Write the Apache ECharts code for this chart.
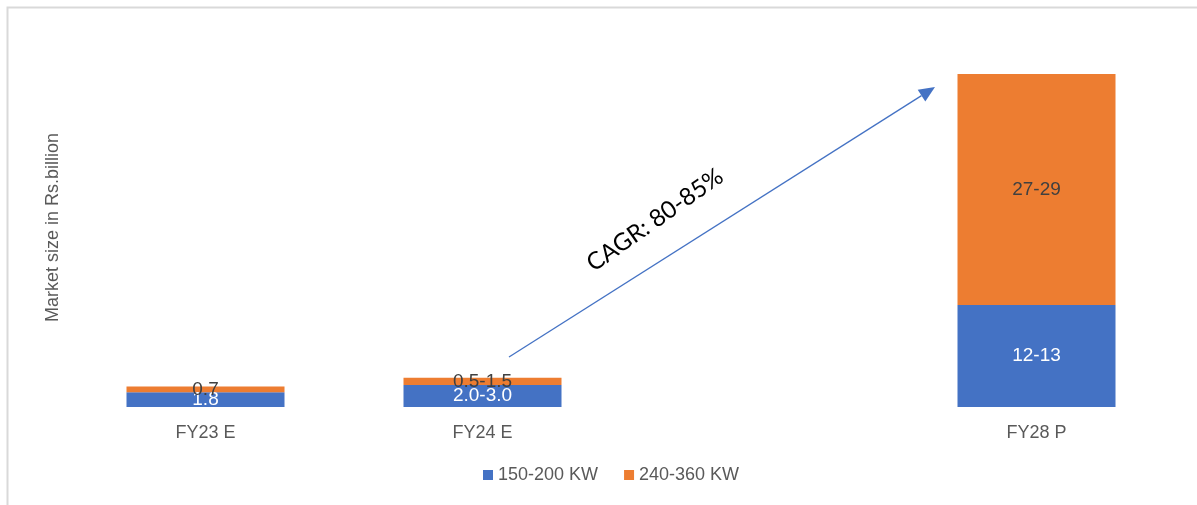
<!DOCTYPE html>
<html>
<head>
<meta charset="utf-8">
<script src="https://cdn.jsdelivr.net/npm/echarts@6/dist/echarts.min.js"></script>
<style>
  html, body { margin: 0; padding: 0; background: #fff; }
  #main { width: 1197px; height: 505px; }
</style>
</head>
<body>
<div id="main"></div>
<script>
// categories (empty slot keeps the gap before FY28)
const categories = ["FY23 E", "FY24 E", "", "FY28 P"];
const lowValues = [1.8, 2.7, null, 12.5];
const highValues = [0.7, 0.9, null, 28.3];
const lowLabels = ["1.8", "2.0-3.0", "", "12-13"];
const highLabels = ["0.7", "0.5-1.5", "", "27-29"];
const seriesNames = ["150-200 KW", "240-360 KW"];

const font = "Liberation Sans, Arial, sans-serif";

let myChart = echarts.init(document.getElementById("main"), null, { renderer: "canvas" });

const option = {
  backgroundColor: "#fff",
  animation: false,
  grid: { left: 67, right: 22, top: 48, bottom: 98 },
  legend: {
    bottom: 16,
    left: 478,
    itemWidth: 10,
    itemHeight: 10,
    itemGap: 26,
    icon: "rect",
    textStyle: { fontFamily: font, fontSize: 18, color: "#595959" },
    data: seriesNames
  },
  xAxis: {
    type: "category",
    data: categories,
    axisLine: { show: false },
    axisTick: { show: false },
    axisLabel: { fontFamily: font, fontSize: 18, color: "#595959", margin: 17 }
  },
  yAxis: {
    type: "value",
    min: 0,
    max: 44,
    name: "Market size in Rs.billion",
    nameLocation: "middle",
    nameGap: 5,
    nameTextStyle: { fontFamily: font, fontSize: 18, color: "#595959" },
    axisLine: { show: false },
    axisTick: { show: false },
    axisLabel: { show: false },
    splitLine: { show: false }
  },
  series: [
    {
      name: seriesNames[0],
      type: "bar",
      stack: "total",
      barWidth: 158,
      itemStyle: { color: "#4472c4" },
      label: {
        show: true,
        position: "inside",
        color: "#fff",
        fontFamily: font,
        fontSize: 19,
        formatter: p => lowLabels[p.dataIndex]
      },
      data: lowValues
    },
    {
      name: seriesNames[1],
      type: "bar",
      stack: "total",
      barWidth: 158,
      itemStyle: { color: "#ed7d31" },
      label: {
        show: true,
        position: "inside",
        color: "#404040",
        fontFamily: font,
        fontSize: 19,
        formatter: p => highLabels[p.dataIndex]
      },
      data: highValues
    }
  ],
  graphic: [
    // outer frame (top and left edges visible)
    {
      type: "rect",
      shape: { x: 7.5, y: 7.5, width: 1300, height: 600 },
      style: { fill: "none", stroke: "#d9d9d9", lineWidth: 2 },
      silent: true
    },
    // CAGR arrow
    {
      type: "line",
      shape: { x1: 509, y1: 357, x2: 921.5, y2: 95.6 },
      style: { stroke: "#4472c4", lineWidth: 1.3 }
    },
    {
      type: "polygon",
      shape: { points: [[935, 87], [925.3, 101.5], [917.7, 89.7]] },
      style: { fill: "#4472c4" }
    },
    {
      type: "text",
      x: 655,
      y: 220,
      rotation: 35 * Math.PI / 180,
      style: {
        text: "CAGR: 80-85%",
        font: "24px Lato, 'Open Sans', sans-serif",
        fill: "#000",
        align: "center",
        verticalAlign: "middle"
      }
    }
  ]
};

myChart.setOption(option);
window.addEventListener("resize", function () {
  myChart.resize();
});
</script>
</body>
</html>
